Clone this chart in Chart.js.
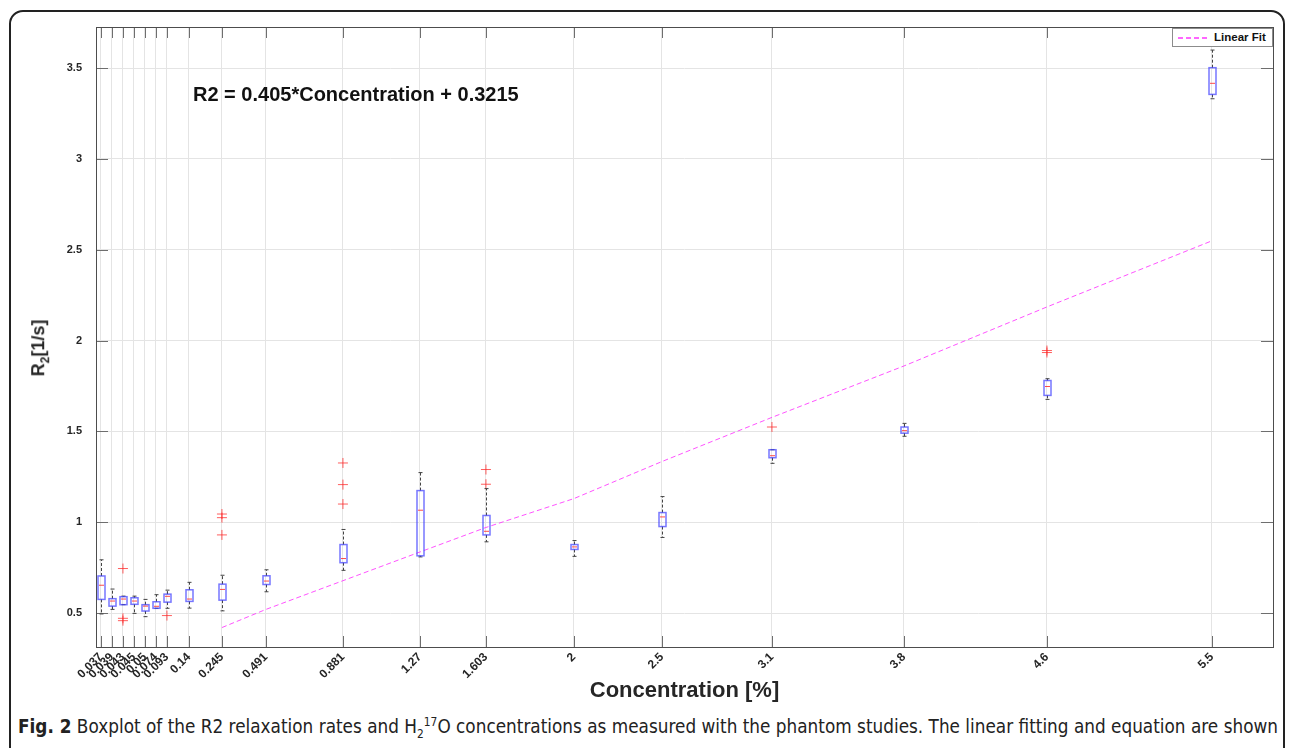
<!DOCTYPE html>
<html>
<head>
<meta charset="utf-8">
<script src="https://cdn.jsdelivr.net/npm/chart.js@4.4.1/dist/chart.umd.min.js"></script>
<style>
  html, body { margin: 0; padding: 0; background: #fff; }
  body { width: 1292px; height: 748px; position: relative; overflow: hidden; font-family: "Liberation Sans", Arial, sans-serif; color: #262626; }
  #frame { position: absolute; left: 9px; top: 10px; width: 1276px; height: 760px; border: 2px solid #222; border-radius: 14px; box-sizing: border-box; }
  #chartCanvas { position: absolute; left: 0; top: 0; }
  #equation { position: absolute; left: 193px; top: 83px; font-weight: bold; font-size: 20px; color: #111; white-space: nowrap; }
  #ylabel { position: absolute; left: 40px; top: 348px; transform: translate(-50%, -50%) rotate(-90deg); font-weight: bold; font-size: 18px; color: #262626; white-space: nowrap; }
  #legend { position: absolute; left: 1172px; top: 28px; width: 101px; height: 19px; border: 1px solid #8c8c8c; background: #fff; box-sizing: border-box; }
  #legend .swatch { position: absolute; left: 5px; top: 8px; width: 30px; height: 1.5px; background: repeating-linear-gradient(to right, #ff66ff 0 5px, transparent 5px 8px); }
  #legend .lbl { position: absolute; left: 41px; top: 2px; font-weight: bold; font-size: 11.5px; color: #111; }
  #caption { position: absolute; left: 18px; top: 715px; font-family: "DejaVu Sans", sans-serif; font-size: 19px; color: #222; white-space: nowrap; }
</style>
</head>
<body>
<div id="frame"></div>
<canvas id="chartCanvas" width="1292" height="707"></canvas>
<div id="equation">R2 = 0.405*Concentration + 0.3215</div>
<div id="ylabel">R<sub style="font-size:12px">2</sub>[1/s]</div>
<div id="legend"><span class="swatch"></span><span class="lbl">Linear Fit</span></div>
<div id="caption"><b>Fig. 2</b> Boxplot of the R2 relaxation rates and H<sub style="font-size:12px">2</sub><sup style="font-size:12px">17</sup>O concentrations as measured with the phantom studies. The linear fitting and equation are shown</div>

<script>
// categories (H2-17O concentration) and where MATLAB placed each box on the x axis
const concLabels = ['0.037','0.039','0.043','0.045','0.05','0.074','0.093','0.14','0.245','0.491','0.881','1.27','1.603','2','2.5','3.1','3.8','4.6','5.5'];
const axisPos    = [0, 1, 2, 3, 4, 5, 6, 8, 11, 15, 22, 29, 35, 43, 51, 61, 73, 86, 101];

// box statistics, R2 [1/s]
const whiskerLow  = [0.495, 0.520, 0.546, 0.498, 0.480, 0.526, 0.526, 0.527, 0.512, 0.617, 0.735, 0.809, 0.892, 0.812, 0.916, 1.324, 1.473, 1.676, 3.331];
const q1          = [0.575, 0.538, 0.546, 0.548, 0.511, 0.526, 0.560, 0.564, 0.571, 0.657, 0.777, 0.815, 0.930, 0.850, 0.976, 1.355, 1.490, 1.698, 3.355];
const median      = [0.653, 0.566, 0.577, 0.566, 0.538, 0.537, 0.592, 0.577, 0.630, 0.676, 0.800, 1.066, 0.950, 0.864, 1.029, 1.366, 1.504, 1.747, 3.416];
const q3          = [0.704, 0.579, 0.590, 0.584, 0.546, 0.562, 0.604, 0.628, 0.659, 0.705, 0.877, 1.174, 1.037, 0.877, 1.053, 1.399, 1.524, 1.780, 3.502];
const whiskerHigh = [0.793, 0.632, 0.593, 0.593, 0.575, 0.601, 0.626, 0.669, 0.708, 0.738, 0.960, 1.273, 1.185, 0.899, 1.141, 1.399, 1.544, 1.790, 3.599];

// outliers (index into concLabels, value)
const outlierIdx = [2, 2, 2, 6, 8, 8, 8, 10, 10, 10, 12, 12, 15, 17, 17];
const outlierVal = [0.745, 0.471, 0.458, 0.486, 1.045, 1.025, 0.930, 1.326, 1.207, 1.100, 1.290, 1.209, 1.524, 1.945, 1.934];

// linear fit line, drawn from 0.245 onwards
const fitIdx = [8, 9, 10, 11, 12, 13, 14, 15, 16, 17, 18];
const fitVal = [0.420, 0.520, 0.678, 0.836, 0.971, 1.130, 1.334, 1.577, 1.860, 2.185, 2.549];

const yTicks      = [0.5, 1, 1.5, 2, 2.5, 3, 3.5];
const yTickLabels = ['0.5', '1', '1.5', '2', '2.5', '3', '3.5'];

Chart.defaults.font.family = '"Liberation Sans", Arial, sans-serif';
Chart.defaults.color = '#262626';

// boxes, whiskers, inner tick marks and the box frame, all placed through the chart scales
const boxPlotPlugin = {
  id: 'boxPlot',
  beforeDatasetsDraw(chart) {
    const { ctx, chartArea: a, scales: { x, y } } = chart;
    ctx.save();
    ctx.strokeStyle = '#6e6e6e';
    ctx.lineWidth = 1;
    ctx.beginPath();
    axisPos.forEach(p => {
      const px = Math.round(x.getPixelForValue(p)) + 0.5;
      ctx.moveTo(px, a.bottom); ctx.lineTo(px, a.bottom - 11);
      ctx.moveTo(px, a.top); ctx.lineTo(px, a.top + 11);
    });
    yTicks.forEach(v => {
      const py = Math.round(y.getPixelForValue(v)) + 0.5;
      ctx.moveTo(a.left, py); ctx.lineTo(a.left + 12, py);
      ctx.moveTo(a.right, py); ctx.lineTo(a.right - 12, py);
    });
    ctx.stroke();
    ctx.strokeStyle = '#4d4d4d';
    ctx.strokeRect(Math.round(a.left) + 0.5, Math.round(a.top) + 0.5, Math.round(a.right - a.left), Math.round(a.bottom - a.top));
    ctx.restore();
  },
  afterDatasetsDraw(chart) {
    const { ctx, scales: { x, y } } = chart;
    const half = 3.5;
    ctx.save();
    axisPos.forEach((p, i) => {
      const px = Math.round(x.getPixelForValue(p)) + 0.5;
      const yLo = y.getPixelForValue(whiskerLow[i]);
      const yQ1 = y.getPixelForValue(q1[i]);
      const yMd = y.getPixelForValue(median[i]);
      const yQ3 = y.getPixelForValue(q3[i]);
      const yHi = y.getPixelForValue(whiskerHigh[i]);
      // whiskers
      ctx.strokeStyle = '#444';
      ctx.lineWidth = 1;
      ctx.setLineDash([3, 2]);
      ctx.beginPath();
      ctx.moveTo(px, yQ3); ctx.lineTo(px, yHi);
      ctx.moveTo(px, yQ1); ctx.lineTo(px, yLo);
      ctx.stroke();
      ctx.setLineDash([]);
      ctx.beginPath();
      ctx.moveTo(px - 2, yHi); ctx.lineTo(px + 2, yHi);
      ctx.moveTo(px - 2, yLo); ctx.lineTo(px + 2, yLo);
      ctx.stroke();
      // box
      ctx.strokeStyle = 'rgba(60,60,255,0.7)';
      ctx.lineWidth = 1.5;
      ctx.strokeRect(px - half, yQ3, half * 2, yQ1 - yQ3);
      // median
      ctx.strokeStyle = 'rgba(255,30,30,0.8)';
      ctx.lineWidth = 1;
      ctx.beginPath();
      ctx.moveTo(px - half + 1, yMd); ctx.lineTo(px + half - 1, yMd);
      ctx.stroke();
    });
    ctx.restore();
  }
};

new Chart(document.getElementById('chartCanvas'), {
  type: 'scatter',
  data: {
    datasets: [
      {
        type: 'line',
        label: 'Linear Fit',
        data: fitIdx.map((k, j) => ({ x: axisPos[k], y: fitVal[j] })),
        borderColor: 'rgba(255,40,255,0.8)',
        borderWidth: 1,
        borderDash: [5, 3],
        pointRadius: 0,
        fill: false,
        tension: 0,
      },
      {
        label: 'Outliers',
        data: outlierIdx.map((k, j) => ({ x: axisPos[k], y: outlierVal[j] })),
        pointStyle: 'cross',
        pointRadius: 5,
        borderColor: 'rgba(255,40,40,0.75)',
        borderWidth: 1,
        backgroundColor: 'transparent',
      }
    ]
  },
  options: {
    responsive: false,
    animation: false,
    layout: { padding: { top: 27, right: 19, left: 0, bottom: 0 } },
    plugins: { legend: { display: false }, tooltip: { enabled: false } },
    scales: {
      x: {
        type: 'linear',
        min: -0.45,
        max: 106.55,
        afterBuildTicks: axis => { axis.ticks = axisPos.map(v => ({ value: v })); },
        afterFit: scale => { scale.height = 60; },
        grid: { color: '#e4e4e4', drawTicks: false },
        border: { display: false },
        ticks: {
          autoSkip: false,
          minRotation: 45,
          maxRotation: 45,
          padding: 3,
          color: '#262626',
          font: { size: 12, weight: 'bold' },
          callback: v => concLabels[axisPos.indexOf(v)]
        },
        title: { display: true, text: 'Concentration [%]', color: '#262626', font: { size: 22, weight: 'bold' }, padding: { top: 0, bottom: 3 } }
      },
      y: {
        min: 0.313,
        max: 3.726,
        afterBuildTicks: axis => { axis.ticks = yTicks.map(v => ({ value: v })); },
        afterFit: scale => { scale.width = 96; },
        grid: { color: '#e4e4e4', drawTicks: false },
        border: { display: false },
        ticks: {
          padding: 14,
          color: '#262626',
          font: { size: 11, weight: 'bold' },
          callback: v => yTickLabels[yTicks.indexOf(v)]
        }
      }
    }
  },
  plugins: [boxPlotPlugin]
});

// squeeze the caption to the width it has in the figure
const cap = document.getElementById('caption');
const capW = cap.getBoundingClientRect().width;
cap.style.transformOrigin = 'left top';
cap.style.transform = 'scaleX(' + (1260 / capW) + ')';
</script>
</body>
</html>
